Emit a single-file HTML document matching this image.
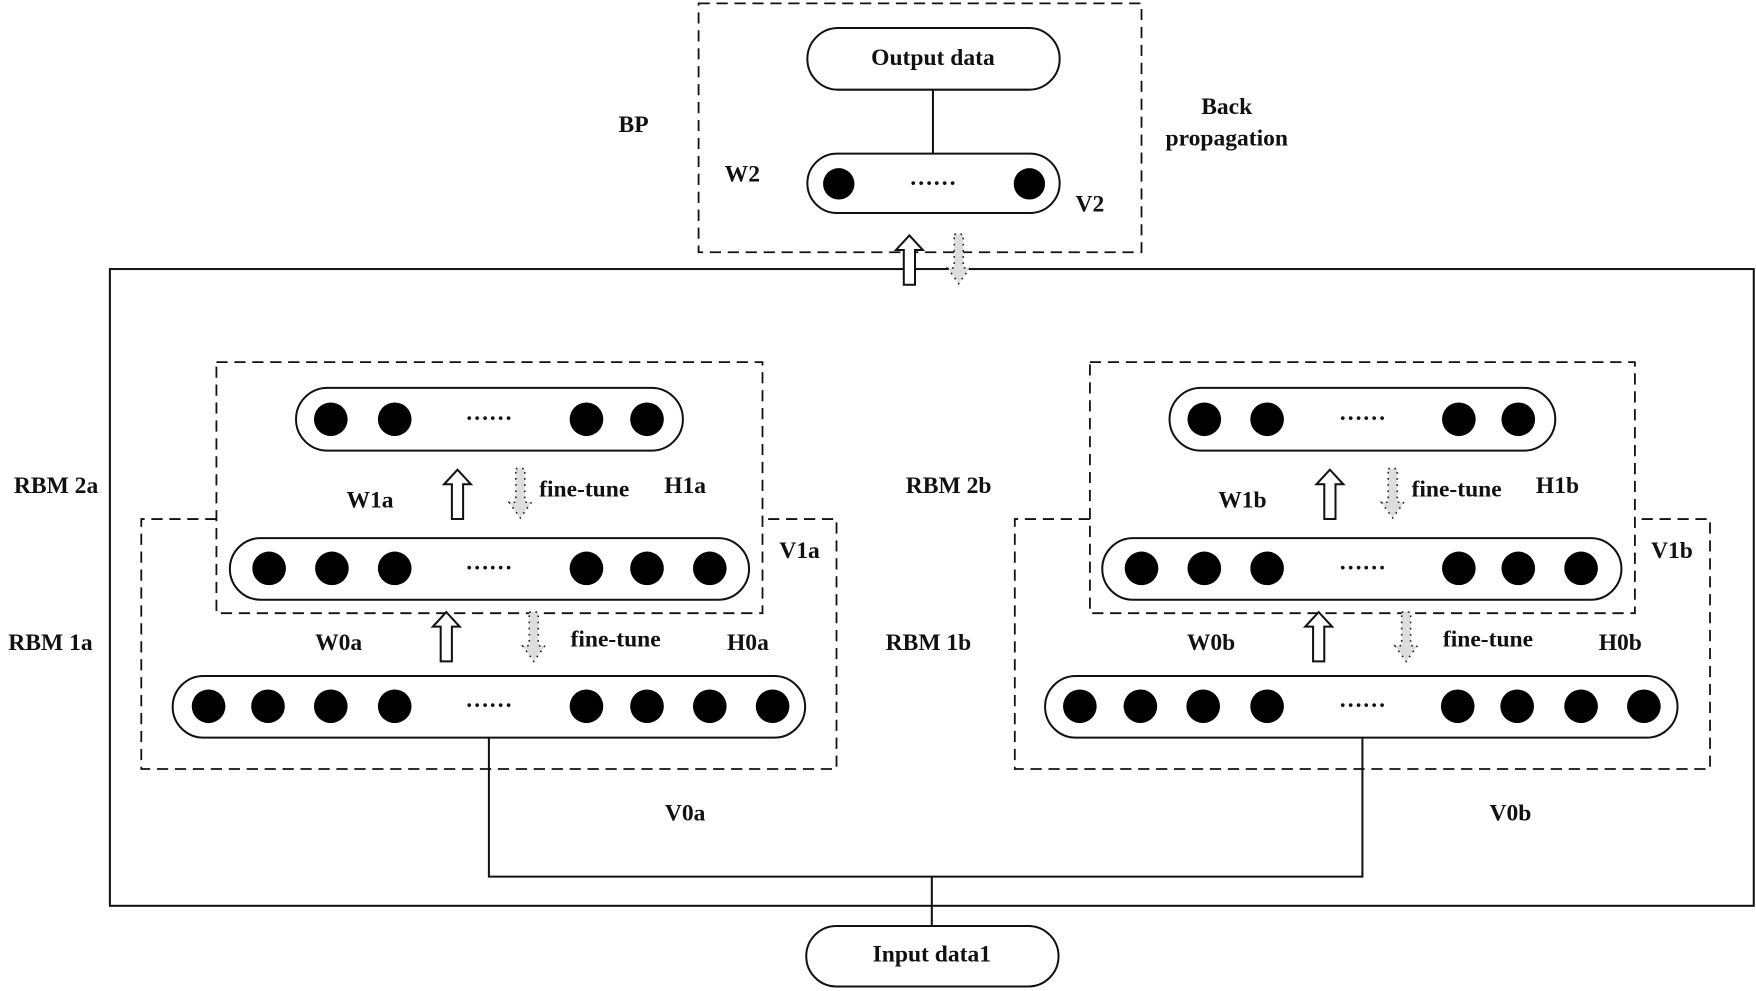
<!DOCTYPE html>
<html><head><meta charset="utf-8"><style>
html,body{margin:0;padding:0;background:#fff;}
svg{display:block}
text{font-family:"Liberation Serif",serif;font-weight:bold;font-size:21px;fill:#111;text-anchor:middle;dominant-baseline:middle}
</style></head><body>
<svg width="1756" height="991" viewBox="0 0 1566 884" preserveAspectRatio="none" xmlns="http://www.w3.org/2000/svg">
<defs>
<g id="up"><path d="M0,-22 L-12,-9 L-5,-9 L-5,22 L5,22 L5,-9 L12,-9 Z" fill="#fff" stroke="#111" stroke-width="1.8"/></g>
<g id="dn"><path d="M-4,-22 L4,-22 L4,8 L10,8 L0,22 L-10,8 L-4,8 Z" fill="#ddd" stroke="#222" stroke-width="1.4" stroke-dasharray="1.5,4"/></g>
</defs>
<g fill="none" stroke="#111" stroke-width="1.8">
<rect x="98" y="240" width="1466" height="568"/>
<g stroke-dasharray="10,6" stroke-width="1.6">
<rect x="623" y="3" width="395" height="222"/>
<rect x="193" y="323" width="487" height="224"/>
<path d="M193,463 H126 V686 H746 V463 H680"/>
<rect x="972" y="323" width="486" height="224"/>
<path d="M972,463 H905 V686 H1525 V463 H1458"/>
</g>
<rect x="720" y="25" width="225" height="55" rx="27.5"/>
<rect x="720" y="137" width="225" height="53" rx="26.5"/>
<rect x="719" y="826" width="225" height="54" rx="27"/>
<rect x="264" y="346" width="345" height="56" rx="28"/>
<rect x="205" y="480" width="463" height="55" rx="27.5"/>
<rect x="154" y="603" width="564" height="55" rx="27.5"/>
<rect x="1043" y="346" width="344" height="56" rx="28"/>
<rect x="983" y="480" width="463" height="55" rx="27.5"/>
<rect x="932" y="603" width="564" height="55" rx="27.5"/>
<path d="M832,80 V137 M436,658 V782 H1215 V658 M831,782 V826"/>
</g>
<g fill="#000">
<circle cx="748" cy="164" r="14"/><circle cx="918" cy="164" r="14"/>
<circle cx="295" cy="374" r="15"/><circle cx="352" cy="374" r="15"/><circle cx="523" cy="374" r="15"/><circle cx="577" cy="374" r="15"/>
<circle cx="240" cy="507" r="15"/><circle cx="296" cy="507" r="15"/><circle cx="352" cy="507" r="15"/><circle cx="523" cy="507" r="15"/><circle cx="577" cy="507" r="15"/><circle cx="633" cy="507" r="15"/>
<circle cx="186" cy="630" r="15"/><circle cx="239" cy="630" r="15"/><circle cx="295" cy="630" r="15"/><circle cx="352" cy="630" r="15"/><circle cx="523" cy="630" r="15"/><circle cx="577" cy="630" r="15"/><circle cx="633" cy="630" r="15"/><circle cx="689" cy="630" r="15"/>
<circle cx="1074" cy="374" r="15"/><circle cx="1130" cy="374" r="15"/><circle cx="1301" cy="374" r="15"/><circle cx="1354" cy="374" r="15"/>
<circle cx="1018" cy="507" r="15"/><circle cx="1074" cy="507" r="15"/><circle cx="1130" cy="507" r="15"/><circle cx="1301" cy="507" r="15"/><circle cx="1354" cy="507" r="15"/><circle cx="1410" cy="507" r="15"/>
<circle cx="963" cy="630" r="15"/><circle cx="1017" cy="630" r="15"/><circle cx="1073" cy="630" r="15"/><circle cx="1130" cy="630" r="15"/><circle cx="1300" cy="630" r="15"/><circle cx="1353" cy="630" r="15"/><circle cx="1410" cy="630" r="15"/><circle cx="1466" cy="630" r="15"/>
</g>
<use href="#up" x="811" y="232"/><use href="#dn" x="855" y="231"/>
<use href="#up" x="408" y="441"/><use href="#dn" x="464" y="440"/>
<use href="#up" x="398" y="568"/><use href="#dn" x="476" y="568"/>
<use href="#up" x="1186" y="441"/><use href="#dn" x="1242" y="440"/>
<use href="#up" x="1176" y="568"/><use href="#dn" x="1254" y="568"/>
<text x="832" y="53">Output data</text>
<text x="831" y="853">Input data1</text>
<text x="832" y="160">……</text>
<text x="436" y="370">……</text><text x="436" y="503">……</text><text x="436" y="626">……</text>
<text x="1215" y="370">……</text><text x="1215" y="503">……</text><text x="1215" y="626">……</text>
<text x="565" y="113">BP</text><text x="662" y="157">W2</text><text x="972" y="184">V2</text>
<text x="1094" y="97">Back</text><text x="1094" y="125">propagation</text>
<text x="50" y="435">RBM 2a</text><text x="45" y="575">RBM 1a</text>
<text x="846" y="435">RBM 2b</text><text x="828" y="575">RBM 1b</text>
<text x="521" y="438">fine-tune</text><text x="549" y="572">fine-tune</text>
<text x="1299" y="438">fine-tune</text><text x="1327" y="572">fine-tune</text>
<text x="330" y="448">W1a</text><text x="611" y="435">H1a</text><text x="713" y="493">V1a</text>
<text x="302" y="575">W0a</text><text x="667" y="575">H0a</text>
<text x="1108" y="448">W1b</text><text x="1389" y="435">H1b</text><text x="1491" y="493">V1b</text>
<text x="1080" y="575">W0b</text><text x="1445" y="575">H0b</text>
<text x="611" y="727">V0a</text><text x="1347" y="727">V0b</text>
</svg>
</body></html>
